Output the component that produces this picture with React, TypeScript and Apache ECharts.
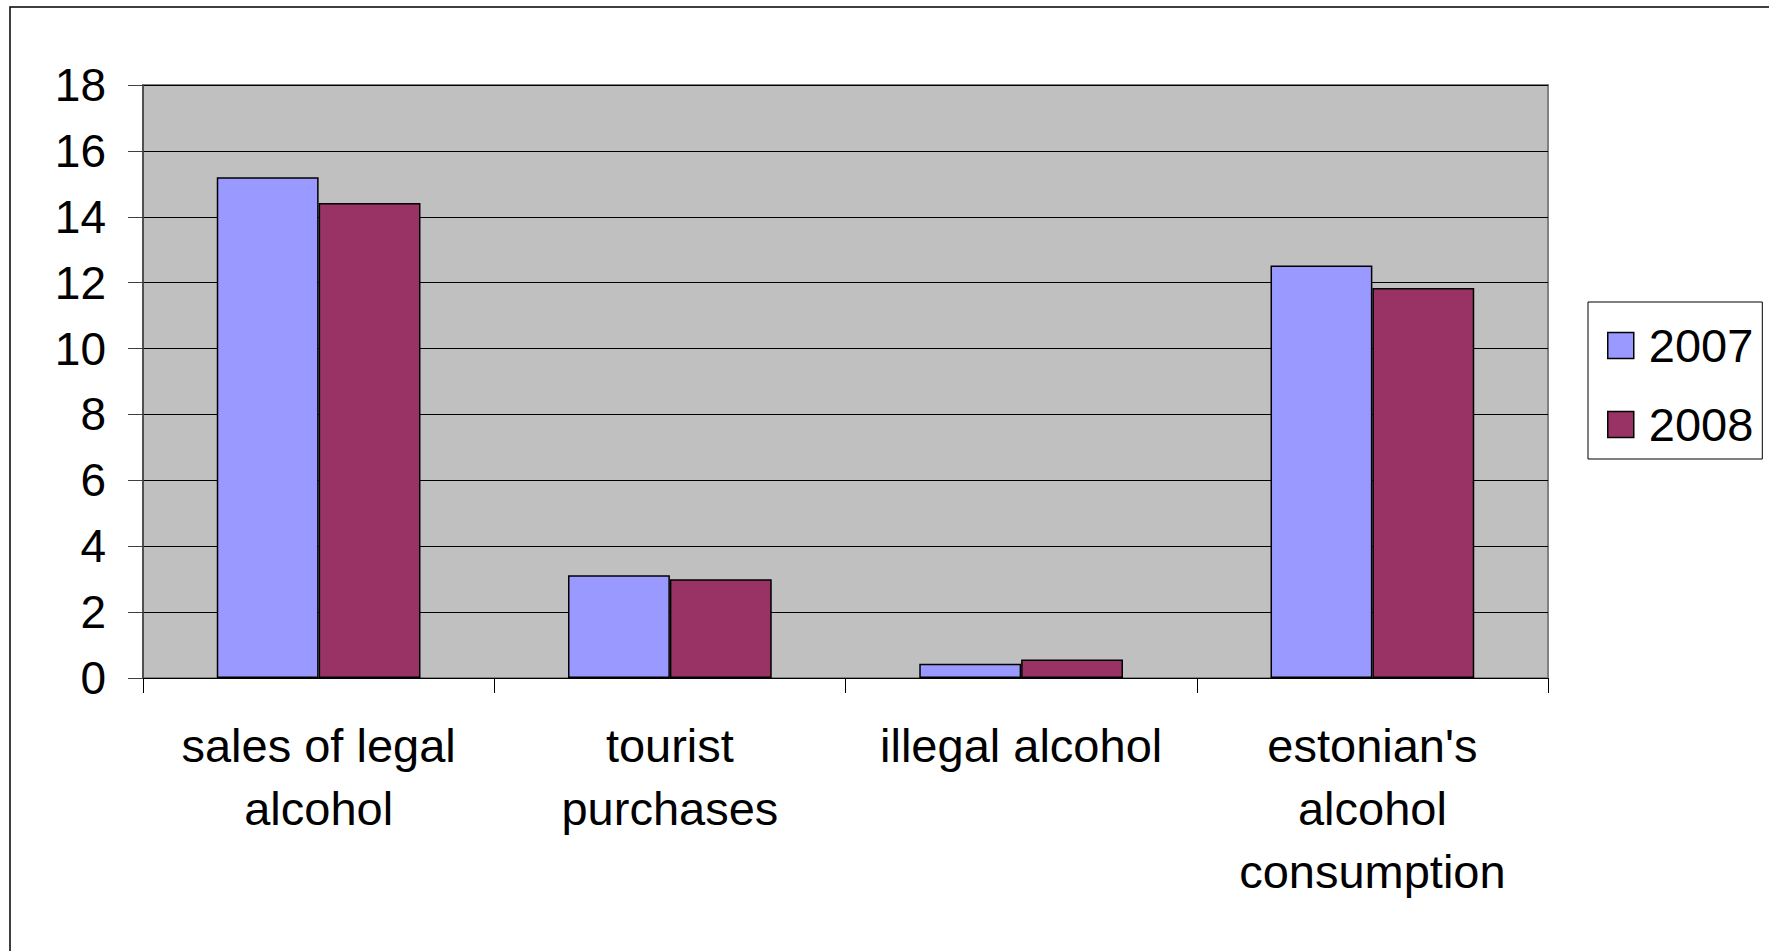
import React, { useEffect, useRef } from "react";
import * as echarts from "echarts";

const categories = [
  "sales of legal\nalcohol",
  "tourist\npurchases",
  "illegal alcohol",
  "estonian's\nalcohol\nconsumption",
];
const values2007 = [15.2, 3.12, 0.43, 12.52];
const values2008 = [14.42, 3.0, 0.56, 11.84];
const yTicks = [0, 2, 4, 6, 8, 10, 12, 14, 16, 18];

const FONT = "Liberation Sans, Arial, sans-serif";

export default function App() {
  const ref = useRef<HTMLDivElement>(null);
  useEffect(() => {
    document.body.style.margin = "0";
    const chart = echarts.init(ref.current!, null, { renderer: "svg" });
    chart.setOption({
      animation: false,
      backgroundColor: "#ffffff",
      textStyle: { fontFamily: FONT },
      graphic: [
        {
          type: "rect",
          shape: { x: 10, y: 7, width: 1900, height: 1100 },
          style: { fill: "none", stroke: "#000", lineWidth: 1.5 },
          silent: true,
          z: 0,
        },
      ],
      grid: {
        left: 143,
        top: 85,
        width: 1405,
        height: 593,
        show: true,
        backgroundColor: "#C0C0C0",
        borderColor: "#808080",
        borderWidth: 2,
      },
      legend: {
        orient: "vertical",
        left: 1588,
        top: 302,
        padding: [20, 9, 11, 19],
        borderColor: "#000",
        borderWidth: 1,
        backgroundColor: "#fff",
        icon: "rect",
        itemWidth: 26,
        itemHeight: 26,
        itemGap: 32,
        itemStyle: { borderColor: "#000", borderWidth: 1.5 },
        textStyle: {
          fontFamily: FONT,
          fontSize: 47,
          lineHeight: 46,
          color: "#000",
          padding: [0, 0, 0, 10],
        },
        data: ["2007", "2008"],
      },
      xAxis: {
        type: "category",
        data: categories,
        axisLine: { show: true, lineStyle: { color: "#000", width: 1 } },
        axisTick: {
          show: true,
          length: 15,
          lineStyle: { color: "#000", width: 1 },
        },
        axisLabel: {
          interval: 0,
          margin: 36,
          fontFamily: FONT,
          fontSize: 47,
          lineHeight: 63,
          color: "#000",
        },
        splitLine: { show: false },
      },
      yAxis: {
        type: "value",
        min: 0,
        max: 18,
        interval: 2,
        axisLine: { show: true, lineStyle: { color: "#404040", width: 1.5 } },
        axisTick: {
          show: true,
          length: 15,
          lineStyle: { color: "#404040", width: 1 },
        },
        axisLabel: {
          margin: 37,
          fontFamily: FONT,
          fontSize: 46,
          color: "#000",
          formatter: (v: number) => (yTicks.includes(v) ? String(v) : ""),
        },
        splitLine: { show: true, lineStyle: { color: "#000", width: 1 } },
      },
      series: [
        {
          name: "2007",
          type: "bar",
          data: values2007,
          barGap: "0%",
          barCategoryGap: "42%",
          itemStyle: { color: "#9999FF", borderColor: "#000", borderWidth: 1.5 },
        },
        {
          name: "2008",
          type: "bar",
          data: values2008,
          barGap: "0%",
          barCategoryGap: "42%",
          itemStyle: { color: "#993366", borderColor: "#000", borderWidth: 1.5 },
        },
      ],
    });
    return () => chart.dispose();
  }, []);
  return <div ref={ref} style={{ width: 1769, height: 951 }} />;
}
